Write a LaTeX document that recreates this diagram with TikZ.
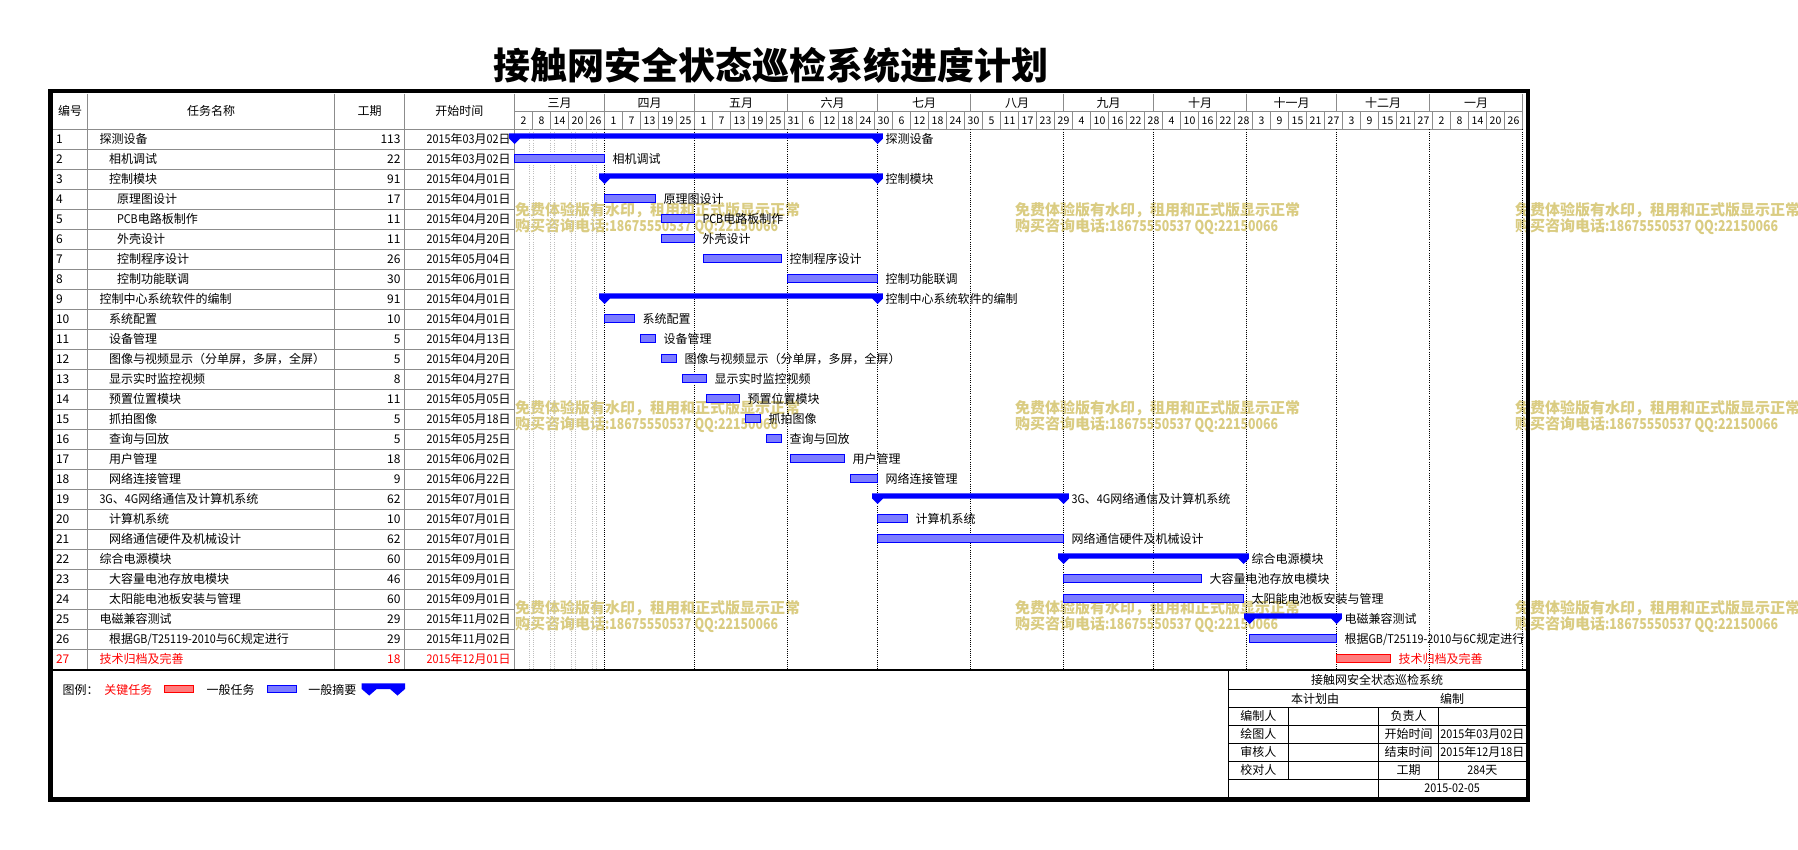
\documentclass[tikz,border=0pt]{standalone}
\usepackage{fontspec}
\usepackage{graphicx}
\newfontfamily\cjk{Noto Sans CJK SC}
\definecolor{gridgray}{RGB}{140,140,140}
\definecolor{barblue}{RGB}{0,0,255}
\definecolor{barfill}{RGB}{125,125,255}
\definecolor{redfill}{RGB}{255,125,125}
\definecolor{wmark}{RGB}{218,204,130}
\definecolor{wkgray}{RGB}{190,190,190}
\newcommand\dg[1]{\scalebox{0.9}[1]{#1}}
\newcommand\dt[3]{\dg{#1}年\dg{#2}月\dg{#3}日}
\newcommand\gbtname{根据\dg{GB/T25119-2010}与\dg{6C}规定进行}
\newcommand\imgname{图像与视频显示（分单屏，多屏，全屏）}
\begin{document}
\begin{tikzpicture}[x=1pt,y=-1pt,
  every node/.style={inner sep=0pt,outer sep=0pt,font={\cjk\fontsize{12}{14}\selectfont}},
  small/.style={font={\cjk\fontsize{10.5}{12}\selectfont}},
  grid/.style={draw=gridgray,line width=0.9pt},
  taskbar/.style={draw=barblue,fill=barfill,line width=1pt},
  critbar/.style={draw=red,fill=redfill,line width=1pt},
  sumbar/.style={fill=barblue},
  monthline/.style={draw=black,line width=0.9pt,dash pattern=on 1pt off 1.2pt},
  wkline/.style={draw=wkgray,line width=0.9pt,dash pattern=on 1pt off 1.2pt},
  wm/.style={anchor=base west,text=wmark,font={\cjk\bfseries\fontsize{15}{17}\selectfont}},
  blk/.style={draw=black,line width=1pt}]
\fill[white] (0,0) rectangle (1798,849);
\useasboundingbox (0,0) rectangle (1798,849);

% title
\node[anchor=base,font={\cjk\bfseries\fontsize{37}{41}\selectfont}] (title) at (771,79) {接触网安全状态巡检系统进度计划};

% watermarks
\foreach \wx in {515,1015,1515}{
  \foreach \wy [count=\j] in {210,407.5,608}{
    \node[wm] (wma\wx\j) at (\wx,\wy+5.7) {免费体验版有水印，租用和正式版显示正常};
    \node[wm] (wmb\wx\j) at (\wx,\wy+21.7) {购买咨询电话\scalebox{0.82}[1]{:18675550537 QQ:22150066}};
  }
}

% table grid
\foreach \k in {1,...,26} \draw[grid] (52.7,{129.3+20*\k}) -- (514.3,{129.3+20*\k});
\draw[grid] (52.7,129.3) -- (1522.5,129.3);
\draw[grid] (514.3,111.7) -- (1522.5,111.7);
\foreach \xx in {87.5,334.5,404.5,514.3} \draw[grid] (\xx,93.5) -- (\xx,669.5);
\foreach \k in {1,...,55} \draw[grid] ({514.5+18*\k},111.7) -- ({514.5+18*\k},129.3);
\draw[grid] (1522.5,93.5) -- (1522.5,129.3);
\foreach \d in {30,60,91,121,152,183,213,244,274,305} \draw[grid] ({514.5+3*\d},93.5) -- ({514.5+3*\d},111.7);
\foreach \d in {30,60,91,121,152,183,213,244,274,305,336} \draw[monthline] ({514.5+3*\d},129.3) -- ({514.5+3*\d},669.3);
\foreach \d in {5,12,19,26}{
  \draw[wkline] ({514.5+3*\d-0.5},129.3) -- ({514.5+3*\d-0.5},669.3);
  \draw[wkline] ({514.5+3*\d+3.5},129.3) -- ({514.5+3*\d+3.5},669.3);
}

% header texts
\node[anchor=base] (h1) at (70,115.8) {编号};
\node[anchor=base] (h2) at (211,115.8) {任务名称};
\node[anchor=base] (h3) at (369.5,115.8) {工期};
\node[anchor=base] (h4) at (459.4,115.8) {开始时间};
\foreach \m/\a/\b [count=\i] in {三月/0/30,四月/30/60,五月/60/91,六月/91/121,七月/121/152,八月/152/183,九月/183/213,十月/213/244,十一月/244/274,十二月/274/305,一月/305/336}
  \node[anchor=base] (mon\i) at ({514.5+1.5*(\a+\b)},107) {\m};
\foreach \lab [count=\i from 0] in {2,8,14,20,26,1,7,13,19,25,1,7,13,19,25,31,6,12,18,24,30,6,12,18,24,30,5,11,17,23,29,4,10,16,22,28,4,10,16,22,28,3,9,15,21,27,3,9,15,21,27,2,8,14,20,26}
  \node[small,anchor=base] (day\i) at ({514.5+18*\i+9},124.3) {\lab};

% rows
\foreach \n/\name/\lvl/\dur/\sd/\bs/\be/\kind in {
1/探测设备/1/113/\dt{2015}{03}{02}/0/121/0,
2/相机调试/2/22/\dt{2015}{03}{02}/0/30/1,
3/控制模块/2/91/\dt{2015}{04}{01}/30/121/0,
4/原理图设计/3/17/\dt{2015}{04}{01}/30/47/1,
5/\dg{PCB}电路板制作/3/11/\dt{2015}{04}{20}/49/60/1,
6/外壳设计/3/11/\dt{2015}{04}{20}/49/60/1,
7/控制程序设计/3/26/\dt{2015}{05}{04}/63/89/1,
8/控制功能联调/3/30/\dt{2015}{06}{01}/91/121/1,
9/控制中心系统软件的编制/1/91/\dt{2015}{04}{01}/30/121/0,
10/系统配置/2/10/\dt{2015}{04}{01}/30/40/1,
11/设备管理/2/5/\dt{2015}{04}{13}/42/47/1,
12/\imgname/2/5/\dt{2015}{04}{20}/49/54/1,
13/显示实时监控视频/2/8/\dt{2015}{04}{27}/56/64/1,
14/预置位置模块/2/11/\dt{2015}{05}{05}/64/75/1,
15/抓拍图像/2/5/\dt{2015}{05}{18}/77/82/1,
16/查询与回放/2/5/\dt{2015}{05}{25}/84/89/1,
17/用户管理/2/18/\dt{2015}{06}{02}/92/110/1,
18/网络连接管理/2/9/\dt{2015}{06}{22}/112/121/1,
19/\dg{3G}、\dg{4G}网络通信及计算机系统/1/62/\dt{2015}{07}{01}/121/183/0,
20/计算机系统/2/10/\dt{2015}{07}{01}/121/131/1,
21/网络通信硬件及机械设计/2/62/\dt{2015}{07}{01}/121/183/1,
22/综合电源模块/1/60/\dt{2015}{09}{01}/183/243/0,
23/大容量电池存放电模块/2/46/\dt{2015}{09}{01}/183/229/1,
24/太阳能电池板安装与管理/2/60/\dt{2015}{09}{01}/183/243/1,
25/电磁兼容测试/1/29/\dt{2015}{11}{02}/245/274/0,
26/\gbtname/2/29/\dt{2015}{11}{02}/245/274/1,
27/技术归档及完善/1/18/\dt{2015}{12}{01}/274/292/2}{
  \pgfmathsetmacro\rc{139.3+20*(\n-1)}
  \ifcase\lvl\or\def\ind{99.5}\or\def\ind{109}\or\def\ind{117}\fi
  \ifnum\kind=2 \def\tcol{red}\else\def\tcol{black}\fi
  \node[anchor=base west,text=\tcol] (num\n) at (56,\rc+4.5) {\n};
  \node[anchor=base west,text=\tcol] (task\n) at (\ind,\rc+4.5) {\name};
  \node[anchor=base east,text=\tcol] (dur\n) at (400.5,\rc+4.5) {\dur};
  \node[anchor=base east,text=\tcol] (start\n) at (510.5,\rc+4.5) {\sd};
  \ifnum\kind=0
    \fill[sumbar] ({514.5+3*\bs-5.3},{\rc-6}) -- ({514.5+3*\be+5.3},{\rc-6}) -- ({514.5+3*\be+5.3},{\rc-0.6}) -- ({514.5+3*\be},{\rc+4.7}) -- ({514.5+3*\be-5.3},{\rc-0.6}) -- ({514.5+3*\bs+5.3},{\rc-0.6}) -- ({514.5+3*\bs},{\rc+4.7}) -- ({514.5+3*\bs-5.3},{\rc-0.6}) -- cycle;
  \else\ifnum\kind=1
    \draw[taskbar] ({514.5+3*\bs},{\rc-4.8}) rectangle ({514.5+3*\be},{\rc+3.5});
  \else
    \draw[critbar] ({514.5+3*\bs},{\rc-4.8}) rectangle ({514.5+3*\be},{\rc+3.5});
  \fi\fi
  \node[anchor=base west,text=\tcol] (lbl\n) at ({514.5+3*\be+8},\rc+4.5) {\name};
}

% separator line
\draw[line width=1.3pt] (50.5,670) -- (1528,670);

% legend
\node[anchor=base west] (lg0) at (62.7,694.5) {图例：};
\node[anchor=base west,text=red] (lg1) at (104.3,694.5) {关键任务};
\draw[critbar] (164.5,685) rectangle (193.5,692.8);
\node[anchor=base west] (lg2) at (206.7,694.5) {一般任务};
\draw[taskbar] (267,685) rectangle (296,692.8);
\node[anchor=base west] (lg3) at (308.3,694.5) {一般摘要};
\fill[sumbar] (361.7,683.3) -- (405,683.3) -- (405,689) -- (397.5,695.5) -- (390,689) -- (376.7,689) -- (369.2,695.5) -- (361.7,689) -- cycle;

% title block
\draw[blk] (1228.3,670) -- (1228.3,797.5);
\foreach \yy in {689.7,707.3,725.3,743.3,761.3,779} \draw[blk] (1228.3,\yy) -- (1526,\yy);
\draw[blk] (1288.3,707.3) -- (1288.3,779);
\draw[blk] (1378.7,707.3) -- (1378.7,797.5);
\draw[blk] (1438.7,707.3) -- (1438.7,779);
\node[anchor=base] (tb0) at (1377,684.7) {接触网安全状态巡检系统};
\node[anchor=base] (tb1) at (1315,703) {本计划由};
\node[anchor=base] (tb2) at (1452,703) {编制};
\node[anchor=base] (tb3) at (1258.3,720.8) {编制人};
\node[anchor=base] (tb4) at (1408.7,720.8) {负责人};
\node[anchor=base] (tb5) at (1258.3,738.8) {绘图人};
\node[anchor=base] (tb6) at (1408.7,738.8) {开始时间};
\node[anchor=base] (tb7) at (1482.3,738.8) {\dt{2015}{03}{02}};
\node[anchor=base] (tb8) at (1258.3,756.8) {审核人};
\node[anchor=base] (tb9) at (1408.7,756.8) {结束时间};
\node[anchor=base] (tb10) at (1482.3,756.8) {\dt{2015}{12}{18}};
\node[anchor=base] (tb11) at (1258.3,774.6) {校对人};
\node[anchor=base] (tb12) at (1408.7,774.6) {工期};
\node[anchor=base] (tb13) at (1482.3,774.6) {\dg{284}天};
\node[anchor=base] (tb14) at (1452,792.6) {\dg{2015-02-05}};

% outer frame
\draw[line width=4.3pt] (50.5,91.3) rectangle (1528,799.5);
\end{tikzpicture}
\end{document}
